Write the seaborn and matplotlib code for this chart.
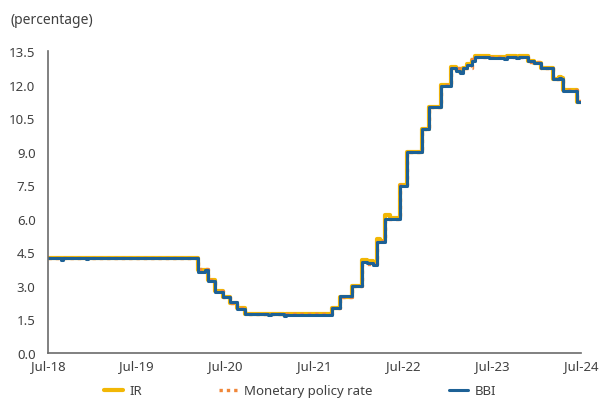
import pandas as pd
import seaborn as sns
import matplotlib.pyplot as plt
import matplotlib.dates as mdates
from matplotlib.ticker import FormatStrFormatter

# Fechas de cambio (escalones) y valores de cada serie
dates = ["2018-07-01", "2018-08-25", "2018-09-02", "2018-12-06", "2018-12-14",
         "2020-03-09", "2020-04-07", "2020-04-19", "2020-05-18", "2020-06-18",
         "2020-07-19", "2020-08-17", "2020-09-18", "2020-12-24", "2021-01-03",
         "2021-02-26", "2021-03-08", "2021-09-10", "2021-10-14", "2021-12-01",
         "2022-01-11", "2022-02-01", "2022-02-26", "2022-03-14", "2022-03-26",
         "2022-04-17", "2022-05-10", "2022-06-18", "2022-07-15", "2022-09-15",
         "2022-10-15", "2022-12-02", "2023-01-16", "2023-02-05", "2023-02-20",
         "2023-03-04", "2023-03-19", "2023-04-09", "2023-04-22", "2023-06-10",
         "2023-06-20", "2023-08-20", "2023-09-01", "2023-10-10", "2023-10-20",
         "2023-11-25", "2023-12-20", "2024-01-21", "2024-03-08", "2024-04-01",
         "2024-04-10", "2024-04-18", "2024-06-14", "2024-07-05"]

ir = [4.25, 4.25, 4.25, 4.25, 4.25,
      3.70, 3.72, 3.25, 2.75, 2.50,
      2.25, 2.00, 1.76, 1.74, 1.75,
      1.72, 1.75, 2.00, 2.52, 3.00,
      4.15, 4.10, 4.02, 5.10, 5.02,
      6.15, 6.05, 7.50, 9.00, 10.00,
      11.00, 12.00, 12.78, 12.68, 12.58,
      12.72, 12.92, 13.10, 13.26, 13.28,
      13.25, 13.22, 13.26, 13.24, 13.27,
      13.05, 12.98, 12.76, 12.27, 12.33,
      12.28, 11.75, 11.24, 11.24]

policy_rate = [4.25, 4.25, 4.25, 4.25, 4.25,
               3.75, 3.75, 3.25, 2.75, 2.50,
               2.25, 2.00, 1.75, 1.75, 1.75,
               1.75, 1.75, 2.00, 2.50, 3.00,
               4.00, 4.00, 4.00, 5.00, 5.00,
               6.00, 6.00, 7.50, 9.00, 10.00,
               11.00, 12.00, 12.75, 12.75, 12.75,
               12.75, 12.75, 13.25, 13.25, 13.25,
               13.25, 13.25, 13.25, 13.25, 13.25,
               13.00, 13.00, 12.75, 12.25, 12.25,
               12.25, 11.75, 11.25, 11.25]

bbi = [4.23, 4.17, 4.23, 4.18, 4.23,
       3.62, 3.69, 3.20, 2.72, 2.49,
       2.26, 1.98, 1.73, 1.68, 1.73,
       1.67, 1.72, 2.01, 2.55, 3.00,
       4.06, 4.02, 3.92, 4.96, 4.97,
       5.99, 5.98, 7.47, 8.97, 10.00,
       10.98, 11.93, 12.74, 12.62, 12.50,
       12.72, 12.89, 13.07, 13.22, 13.24,
       13.20, 13.16, 13.23, 13.21, 13.24,
       13.04, 12.96, 12.74, 12.25, 12.30,
       12.25, 11.71, 11.21, 11.21]

df = pd.DataFrame({"fecha": pd.to_datetime(dates), "IR": ir,
                   "Monetary policy rate": policy_rate, "BBI": bbi})

sns.set_style("white")
plt.rcParams['font.family'] = ['Noto Sans', 'DejaVu Sans']
text_color = "#404040"

fig = plt.figure(figsize=(6, 4.02), dpi=100)
ax = fig.add_axes([0.08, 0.1194, 0.888, 0.7512])

sns.lineplot(data=df, x="fecha", y="IR", ax=ax, color="#F2B705", lw=3.0,
             drawstyle="steps-post", label="IR")
sns.lineplot(data=df, x="fecha", y="Monetary policy rate", ax=ax, color="#F0873A",
             lw=2.4, linestyle=(0, (1, 1.2)), drawstyle="steps-post",
             label="Monetary policy rate")
sns.lineplot(data=df, x="fecha", y="BBI", ax=ax, color="#1D6196", lw=2.2,
             drawstyle="steps-post", label="BBI")

ax.set_xlim(pd.Timestamp("2018-07-01"), pd.Timestamp("2024-07-01"))
ax.set_ylim(0, 13.5)
ax.set_yticks([0, 1.5, 3.0, 4.5, 6.0, 7.5, 9.0, 10.5, 12.0, 13.5])
ax.yaxis.set_major_formatter(FormatStrFormatter("%.1f"))
ax.xaxis.set_major_locator(mdates.MonthLocator(bymonth=7))
ax.xaxis.set_major_formatter(mdates.DateFormatter("%b-%y"))
ax.set_xlabel("")
ax.set_ylabel("")

for side in ["top", "right"]:
    ax.spines[side].set_visible(False)
for side in ["left", "bottom"]:
    ax.spines[side].set_color("#6b6b6b")
    ax.spines[side].set_linewidth(1.2)
ax.tick_params(axis="both", direction="in", length=3.5, width=1, color="#6b6b6b",
               labelsize=9.5, labelcolor=text_color)
ax.tick_params(axis="y", pad=9)
ax.tick_params(axis="x", pad=4)

fig.text(0.017, 0.95, "(percentage)", fontsize=10, color=text_color,
         ha="left", va="center")

ax.get_legend().remove()
handles, labels = ax.get_legend_handles_labels()
fig.legend(handles, labels, loc="center", bbox_to_anchor=(0.5, 0.025), ncol=3,
           frameon=False, fontsize=9.5, handlelength=1.45, handletextpad=0.5,
           columnspacing=5.8, labelcolor=text_color, borderpad=0.2)

plt.savefig("out.png", dpi=100)
